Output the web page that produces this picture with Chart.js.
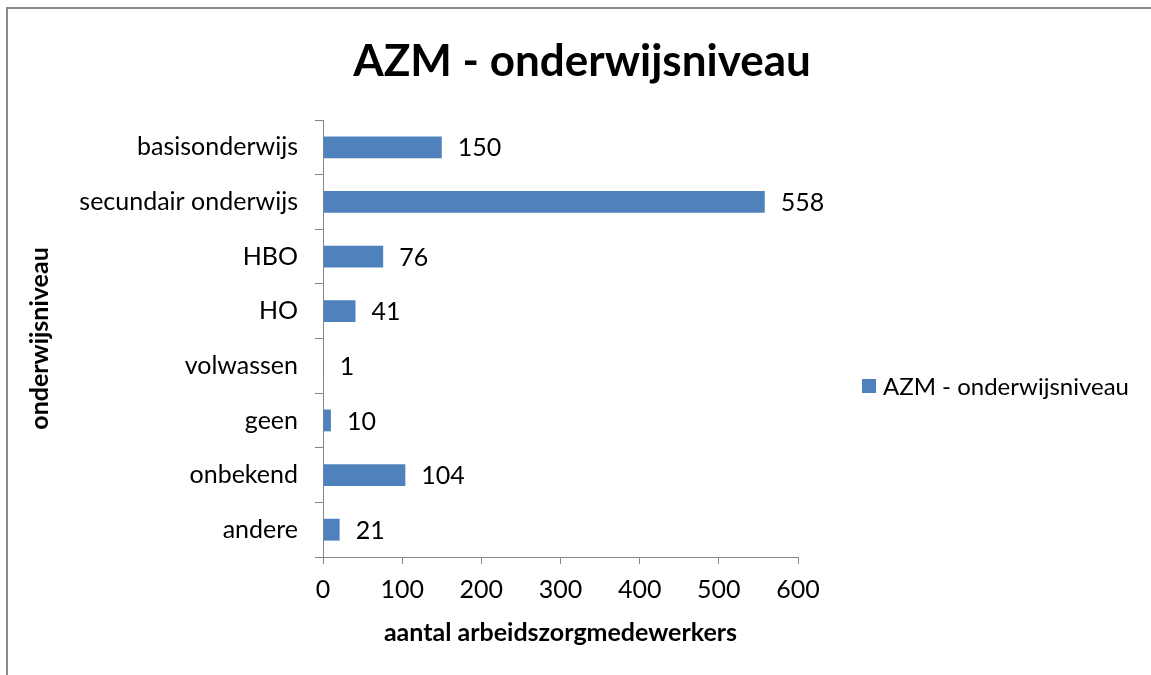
<!DOCTYPE html>
<html>
<head>
<meta charset="utf-8">
<script src="https://cdn.jsdelivr.net/npm/chart.js@4.4.0/dist/chart.umd.min.js"></script>
<style>
  html, body { margin: 0; padding: 0; background: #fff; }
  #wrap { width: 1151px; height: 675px; position: relative; }
</style>
</head>
<body>
<div id="wrap"><canvas id="myChart" width="1151" height="675"></canvas></div>
<script>
let chartTitle = 'AZM - onderwijsniveau';
let categories = ['basisonderwijs', 'secundair onderwijs', 'HBO', 'HO', 'volwassen', 'geen', 'onbekend', 'andere'];
let values = [150, 558, 76, 41, 1, 10, 104, 21];
let xTicks = [0, 100, 200, 300, 400, 500, 600];
let xTitle = 'aantal arbeidszorgmedewerkers';
let yTitle = 'onderwijsniveau';

let barColor = '#4F81BD';
let axisColor = '#868686';
let fontName = 'Lato, "Noto Sans", sans-serif';

// frame, title, legend and value labels, excel style
let extras = {
    id: 'extras',
    beforeDraw: (chart) => {
        let ctx = chart.ctx;
        ctx.save();
        ctx.fillStyle = '#fff';
        ctx.fillRect(0, 0, chart.width, chart.height);
        ctx.strokeStyle = '#898989';
        ctx.lineWidth = 2;
        ctx.beginPath();
        ctx.moveTo(7, 680);
        ctx.lineTo(7, 8);
        ctx.lineTo(1160, 8);
        ctx.stroke();
        ctx.restore();
    },
    afterDatasetsDraw: (chart) => {
        let ctx = chart.ctx;
        ctx.save();
        ctx.fillStyle = '#000';
        ctx.font = '25px ' + fontName;
        ctx.textAlign = 'left';
        ctx.textBaseline = 'middle';
        chart.getDatasetMeta(0).data.forEach((bar, i) => {
            ctx.fillText(values[i], bar.x + 16, bar.y + 1);
        });

        // title
        ctx.font = 'bold 44px ' + fontName;
        ctx.textAlign = 'center';
        ctx.fillText(chartTitle, 582, 62);

        // legend
        ctx.fillStyle = barColor;
        ctx.fillRect(862, 379, 14, 14);
        ctx.fillStyle = '#000';
        ctx.font = '24px ' + fontName;
        ctx.textAlign = 'left';
        ctx.fillText(chartTitle, 883, 387);
        ctx.restore();
    }
};

const data = {
    labels: categories,
    datasets: [{
        label: chartTitle,
        data: values,
        backgroundColor: barColor,
        barPercentage: 0.4,
        categoryPercentage: 1.0,
    }]
};

const config = {
    type: 'bar',
    data: data,
    options: {
        indexAxis: 'y',
        responsive: false,
        animation: false,
        layout: {
            padding: { top: 120, right: 353, bottom: 0, left: 0 }
        },
        plugins: {
            legend: { display: false },
            tooltip: { enabled: false },
            title: { display: false },
        },
        scales: {
            x: {
                type: 'linear',
                min: 0,
                max: 600,
                afterBuildTicks: (scale) => {
                    scale.ticks = xTicks.map(v => ({ value: v }));
                },
                afterFit: (scale) => { scale.height = 118; },
                grid: {
                    drawOnChartArea: false,
                    drawTicks: true,
                    tickLength: 7,
                    color: axisColor,
                },
                border: { display: true, color: axisColor, width: 1 },
                ticks: {
                    color: '#000',
                    font: { family: fontName, size: 25 },
                    padding: 11,
                    maxRotation: 0,
                },
                title: {
                    display: true,
                    text: xTitle,
                    color: '#000',
                    font: { family: fontName, size: 25, weight: 'bold' },
                    padding: { top: 0, bottom: 27 },
                }
            },
            y: {
                type: 'category',
                afterFit: (scale) => { scale.width = 323; },
                grid: {
                    offset: true,
                    drawOnChartArea: false,
                    drawTicks: true,
                    tickLength: 8,
                    color: axisColor,
                },
                border: { display: true, color: axisColor, width: 1 },
                ticks: {
                    color: '#000',
                    font: { family: fontName, size: 25 },
                    padding: 17,
                },
                title: {
                    display: true,
                    text: yTitle,
                    color: '#000',
                    font: { family: fontName, size: 25, weight: 'bold' },
                    padding: { top: 25, bottom: 0 },
                }
            }
        }
    },
    plugins: [extras]
};

let myChart = new Chart(
    document.getElementById('myChart'),
    config
);
</script>
</body>
</html>
